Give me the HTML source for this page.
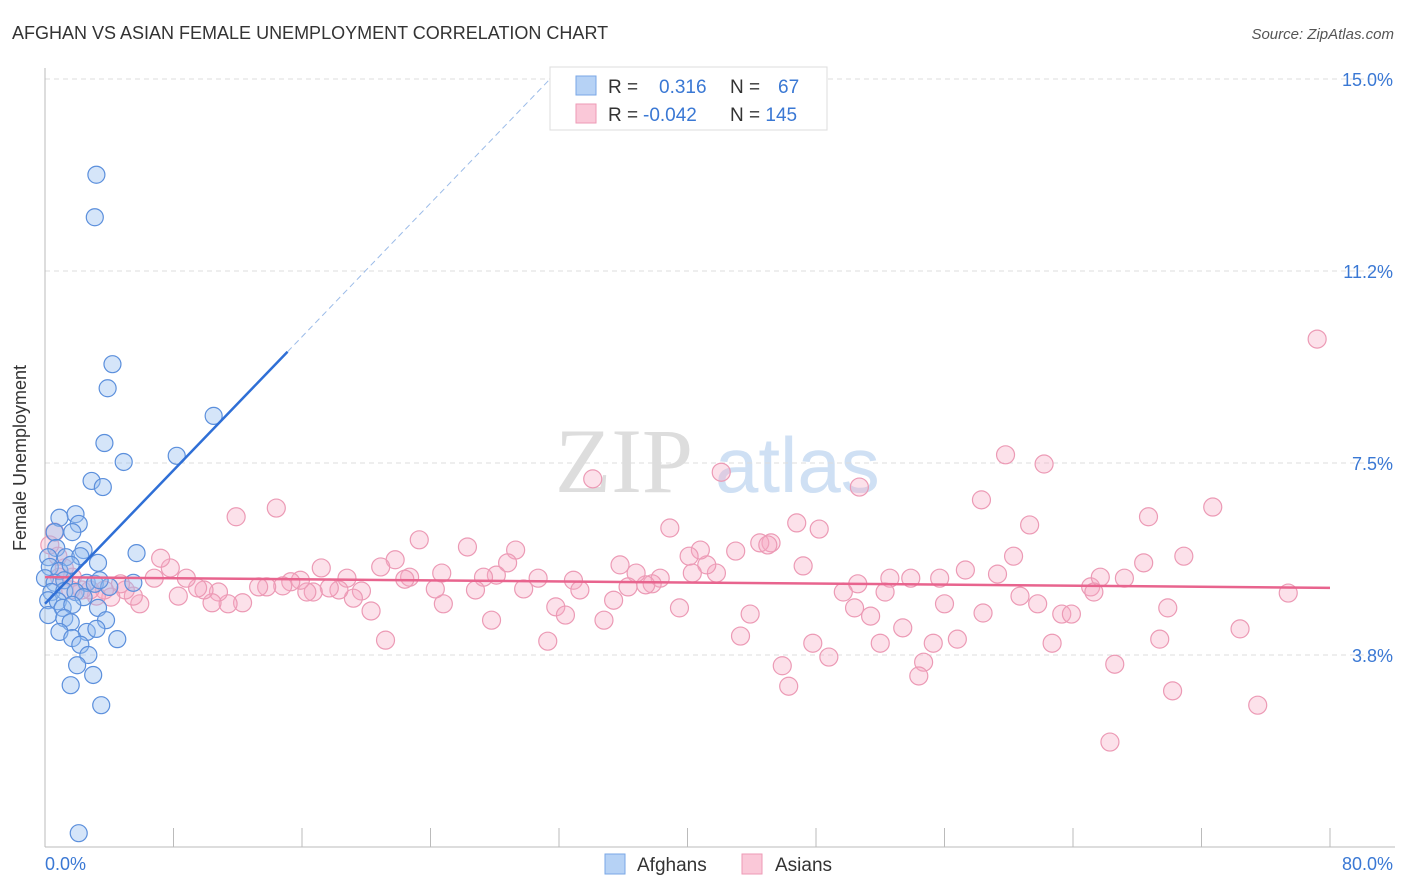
<!DOCTYPE html>
<html><head><meta charset="utf-8"><style>
body{margin:0;background:#fff;font-family:"Liberation Sans",sans-serif}
svg{display:block}
</style></head><body>
<svg width="1406" height="892" id="chart">
<text x="12" y="39" font-size="18" fill="#333">AFGHAN VS ASIAN FEMALE UNEMPLOYMENT CORRELATION CHART</text>
<text x="1394" y="39" font-size="15" fill="#555" font-style="italic" text-anchor="end">Source: ZipAtlas.com</text>
<text x="26" y="458" font-size="18" fill="#333" transform="rotate(-90 26 458)" text-anchor="middle">Female Unemployment</text>
<g>
<text x="555" y="492" font-size="92" font-family="Liberation Serif,serif" fill="#ddd">ZIP</text>
<text x="715" y="492" font-size="78" fill="#cfe0f4">atlas</text>
</g>
<g id="grid"></g>
<g id="axes"></g>
<g id="marks"></g>
<g>
<rect x="550" y="67" width="277" height="63" fill="#fff" stroke="#ddd"/>
<rect x="576" y="76" width="20" height="19" fill="#b6d2f5" stroke="#7aa7e6"/>
<rect x="576" y="104" width="20" height="19" fill="#fac8d8" stroke="#ee9ab6"/>
<text x="608" y="93" font-size="19" fill="#333">R = <tspan fill="#3a78d4" x="659">0.316</tspan></text>
<text x="730" y="93" font-size="19" fill="#333">N = <tspan fill="#3a78d4" x="778">67</tspan></text>
<text x="608" y="121" font-size="19" fill="#333">R = <tspan fill="#3a78d4" x="643">-0.042</tspan></text>
<text x="730" y="121" font-size="19" fill="#333">N = <tspan fill="#3a78d4">145</tspan></text>
</g>
<g>
<rect x="605" y="854" width="20" height="20" fill="#b6d2f5" stroke="#7aa7e6"/>
<text x="637" y="871" font-size="19" fill="#333">Afghans</text>
<rect x="742" y="854" width="20" height="20" fill="#fac8d8" stroke="#ee9ab6"/>
<text x="775" y="871" font-size="19" fill="#333">Asians</text>
</g>
</svg>
<script>
const yTicks=[15.0,11.2,7.5,3.8];
const yTickVals=[15,11.25,7.5,3.75];
const xTickLabels=["0.0%","80.0%"];
const afghanX=[3.2,3.1,4.2,3.9,10.5,3.7,8.2,4.9,2.9,3.6,1.9,0.9,2.1,1.7,0.6,0.7,2.4,1.3,0.2,2.2,5.7,3.3,0.3,0.9,1.6,0.0,0.6,1.2,2.6,3.1,5.5,0.4,1.2,1.9,0.2,0.8,2.4,1.1,1.7,3.3,0.2,1.2,3.8,1.6,0.9,2.6,3.2,4.5,1.7,2.2,2.7,2.0,3.0,1.6,3.5,2.1,4.0,3.4];
const afghanY=[13.13,12.30,9.43,8.96,8.42,7.89,7.64,7.52,7.15,7.03,6.50,6.43,6.31,6.15,6.15,5.84,5.80,5.66,5.66,5.68,5.74,5.55,5.47,5.39,5.51,5.25,5.16,5.21,5.16,5.14,5.16,4.98,5.00,4.98,4.82,4.80,4.88,4.67,4.73,4.67,4.53,4.47,4.43,4.39,4.20,4.20,4.26,4.06,4.08,3.95,3.75,3.55,3.36,3.16,2.77,0.27,5.08,5.21];
const asianX=[79.2,59.8,62.2,42.1,34.1,50.7,58.3,72.7,14.4,11.9,68.7,38.9,46.8,48.2,61.3,70.9,68.4,60.3,57.3,59.3,55.7,56.0,58.4,60.7,61.8,63.3,63.9,65.1,65.7,67.2,65.3,69.9,69.4,74.4,75.5,66.3,70.2,66.6,77.4,62.7,56.8,55.3,54.7,54.4,53.4,52.0,53.9,52.6,52.3,50.6,49.7,50.4,51.4,48.8,47.8,46.3,45.9,43.3,43.9,47.2,45.2,44.5,45.0,43.0,41.8,41.2,40.8,40.1,40.3,39.5,38.3,37.8,37.4,36.8,36.3,35.4,35.8,34.8,32.9,33.3,31.8,31.3,32.4,30.7,29.8,29.3,28.8,28.1,27.8,27.3,26.8,26.3,24.8,24.7,24.3,23.3,22.7,22.4,21.8,21.2,20.9,20.3,19.7,19.2,18.8,18.3,17.7,17.2,16.7,16.3,15.9,15.3,14.8,13.8,13.3,12.3,11.4,10.8,10.4,9.9,9.5,8.8,8.3,7.8,7.2,6.8,5.9,5.5,5.0,4.7,4.1,3.7,3.2,2.8,2.3,1.7,1.2,0.8,0.6,0.3,0.9,1.6];
const asianY=[9.92,7.66,7.48,7.32,7.19,7.03,6.78,6.64,6.62,6.45,6.45,6.23,6.33,6.21,6.29,5.68,5.55,5.68,5.41,5.33,5.25,4.75,4.57,4.90,4.75,4.55,4.55,5.08,5.27,5.25,4.98,4.67,4.06,4.26,2.77,2.05,3.05,3.57,4.96,3.98,4.06,3.98,3.61,3.34,4.28,3.98,5.25,5.25,4.98,5.14,4.98,4.67,4.51,3.71,3.98,3.14,3.54,4.12,4.55,5.49,5.94,5.94,5.90,5.78,5.35,5.51,5.80,5.68,5.35,4.67,5.25,5.14,5.12,5.35,5.08,4.82,5.51,4.43,5.21,5.02,4.69,4.02,4.53,5.25,5.04,5.80,5.55,5.31,4.43,5.27,5.02,5.86,4.75,5.35,5.04,6.00,5.27,5.23,5.61,4.04,5.47,4.61,5.00,4.86,5.25,5.02,5.06,5.45,4.98,4.98,5.21,5.18,5.10,5.08,5.08,4.77,4.75,4.98,4.77,5.02,5.06,5.25,4.90,5.45,5.64,5.25,4.75,4.90,5.02,5.14,4.88,5.02,4.90,5.02,5.02,5.27,5.45,5.68,6.15,5.90,5.27,5.02];
const afghanTrend=[4.75,0.326]; // intercept, slope
const asianTrend=[5.27,-0.0026];

const NS="http://www.w3.org/2000/svg";
const X0=45,X1=1330,Y0=847;
const sx=v=>X0+(X1-X0)*v/80;
const sy=v=>Y0-v*51.2;
function mk(tag,attrs,parent){const e=document.createElementNS(NS,tag);for(const k in attrs)e.setAttribute(k,attrs[k]);parent.appendChild(e);return e;}
const grid=document.getElementById('grid'),axes=document.getElementById('axes'),marks=document.getElementById('marks');
yTickVals.forEach((v,i)=>{
 const l=mk('line',{x1:X0,x2:1395,y1:sy(v),y2:sy(v),stroke:'#ddd','stroke-dasharray':'5,4'},grid);
 
 
 const t=mk('text',{x:1393,y:sy(v)+7,'font-size':18,fill:'#3a78d4','text-anchor':'end'},grid);
 t.textContent=yTicks[i].toFixed(1)+'%';
 
 
});
const ya=mk('line',{x1:X0,x2:X0,y1:68,y2:Y0,stroke:'#bbb'},axes);


const xa=mk('line',{x1:X0,x2:1395,y1:Y0,y2:Y0,stroke:'#bbb'},axes);


for(let v=8;v<=80;v+=8){
 const t=mk('line',{x1:sx(v),x2:sx(v),y1:828,y2:Y0,stroke:'#bbb'},axes);
 
 
}
const xl0=mk('text',{x:45,y:870,'font-size':18,fill:'#3a78d4'},axes);xl0.textContent=xTickLabels[0];


const xl1=mk('text',{x:1393,y:870,'font-size':18,fill:'#3a78d4','text-anchor':'end'},axes);xl1.textContent=xTickLabels[1];



asianX.forEach((x,i)=>{
 const c=mk('circle',{cx:sx(x),cy:sy(asianY[i]),r:9,fill:'rgba(246,170,196,0.35)',stroke:'#ec9ab5','stroke-width':1.2},marks);
 
 
});
afghanX.forEach((x,i)=>{
 const c=mk('circle',{cx:sx(x),cy:sy(afghanY[i]),r:8.5,fill:'rgba(150,190,240,0.4)',stroke:'#5b8fdc','stroke-width':1.2},marks);
 
 
});
const at=mk('line',{x1:sx(0),y1:sy(asianTrend[0]),x2:sx(80),y2:sy(asianTrend[0]+asianTrend[1]*80),stroke:'#e8648e','stroke-width':2.5},marks);


const bt=mk('line',{x1:sx(0),y1:sy(afghanTrend[0]),x2:sx(15.1),y2:sy(afghanTrend[0]+afghanTrend[1]*15.1),stroke:'#2f6fd6','stroke-width':2.5},marks);


const xe=(15-afghanTrend[0])/afghanTrend[1];
const bd=mk('line',{x1:sx(15.1),y1:sy(afghanTrend[0]+afghanTrend[1]*15.1),x2:sx(xe),y2:sy(15),stroke:'#9bbbe8','stroke-width':1,'stroke-dasharray':'6,4'},marks);


</script>
</body></html>
